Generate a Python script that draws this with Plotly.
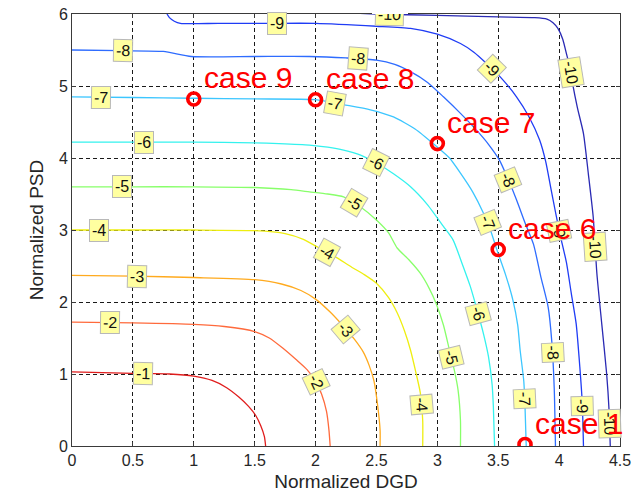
import math
import plotly.graph_objects as go

# ---- contour levels and their traced iso-lines (Normalized DGD vs Normalized PSD) ----
levels = [-1, -2, -3, -4, -5, -6, -7, -8, -9, -10]

dgd_m1 = [0, 0.5, 0.8, 1.0, 1.15, 1.27, 1.37, 1.45, 1.51, 1.55, 1.58, 1.59]
psd_m1 = [1.03, 1.01, 1.0, 0.97, 0.91, 0.81, 0.68, 0.55, 0.42, 0.28, 0.13, 0.0]

dgd_m2 = [0, 0.5, 1.0, 1.25, 1.5, 1.62, 1.73, 1.84, 1.93, 2.0, 2.05, 2.09, 2.11, 2.12]
psd_m2 = [1.72, 1.71, 1.69, 1.66, 1.59, 1.5, 1.36, 1.2, 1.06, 0.9, 0.72, 0.48, 0.22, 0.0]

dgd_m3 = [0, 0.5, 1.0, 1.5, 1.72, 1.88, 2.0, 2.12, 2.23, 2.32, 2.39, 2.44, 2.48, 2.51, 2.53, 2.53]
psd_m3 = [2.37, 2.36, 2.34, 2.31, 2.25, 2.16, 2.04, 1.86, 1.66, 1.48, 1.31, 1.12, 0.9, 0.56, 0.22, 0.0]

dgd_m4 = [0, 0.5, 1.0, 1.5, 1.75, 1.9, 2.02, 2.15, 2.3, 2.4, 2.5, 2.6, 2.67, 2.73, 2.78, 2.82, 2.86, 2.88, 2.88]
psd_m4 = [3.0, 3.0, 3.0, 2.99, 2.95, 2.87, 2.76, 2.64, 2.48, 2.38, 2.26, 2.06, 1.85, 1.6, 1.33, 1.05, 0.74, 0.35, 0.0]

dgd_m5 = [0, 0.5, 1.0, 1.5, 1.8, 1.95, 2.1, 2.23, 2.37, 2.5, 2.6, 2.67, 2.77, 2.86, 2.93, 2.99, 3.05, 3.1, 3.14, 3.17, 3.19, 3.19]
psd_m5 = [3.6, 3.6, 3.6, 3.59, 3.56, 3.53, 3.5, 3.46, 3.32, 3.14, 2.96, 2.75, 2.58, 2.4, 2.2, 1.98, 1.68, 1.33, 1.05, 0.78, 0.35, 0.0]

dgd_m6 = [0, 0.5, 1.0, 1.5, 1.7, 1.95, 2.1, 2.23, 2.37, 2.5, 2.64, 2.78, 2.92, 3.05, 3.13, 3.2, 3.27, 3.32, 3.38, 3.42, 3.45, 3.46, 3.47]
psd_m6 = [4.22, 4.22, 4.22, 4.21, 4.2, 4.18, 4.15, 4.11, 4.04, 3.93, 3.78, 3.6, 3.35, 3.05, 2.86, 2.55, 2.22, 1.93, 1.55, 1.24, 0.85, 0.55, 0.0]

dgd_m7 = [0, 0.5, 1.0, 1.5, 2.0, 2.23, 2.45, 2.64, 2.82, 2.98, 3.1, 3.19, 3.29, 3.38, 3.44, 3.49, 3.56, 3.62, 3.66, 3.68, 3.71, 3.72, 3.73]
psd_m7 = [4.85, 4.84, 4.83, 4.82, 4.81, 4.74, 4.67, 4.57, 4.4, 4.18, 4.0, 3.79, 3.53, 3.23, 2.98, 2.72, 2.38, 2.03, 1.68, 1.33, 0.9, 0.55, 0.0]

dgd_m8 = [0, 0.4, 0.75, 0.98, 1.5, 1.95, 2.25, 2.5, 2.65, 2.78, 2.92, 3.05, 3.19, 3.32, 3.42, 3.51, 3.58, 3.65, 3.72, 3.79, 3.85, 3.91, 3.94, 3.96, 3.97]
psd_m8 = [5.5, 5.49, 5.48, 5.41, 5.41, 5.41, 5.39, 5.36, 5.3, 5.2, 5.05, 4.85, 4.62, 4.39, 4.19, 3.97, 3.71, 3.42, 3.1, 2.8, 2.35, 1.93, 1.45, 0.8, 0.0]

dgd_m9 = [0.78, 0.8, 0.84, 0.89, 1.2, 1.6, 2.0, 2.5, 2.78, 3.0, 3.19, 3.3, 3.4, 3.52, 3.65, 3.75, 3.84, 3.89, 3.93, 3.97, 4.01, 4.06, 4.1, 4.14, 4.17, 4.19, 4.2]
psd_m9 = [6.0, 5.95, 5.9, 5.87, 5.87, 5.87, 5.87, 5.83, 5.8, 5.72, 5.59, 5.47, 5.32, 5.12, 4.85, 4.58, 4.25, 3.95, 3.6, 3.25, 2.92, 2.55, 2.12, 1.7, 1.1, 0.6, 0.0]

dgd_m10 = [2.2, 2.5, 3.0, 3.5, 3.8, 3.9, 3.95, 3.99, 4.03, 4.06, 4.09, 4.11, 4.15, 4.2, 4.24, 4.28, 4.31, 4.35, 4.39, 4.41, 4.42]
psd_m10 = [6.02, 6.0, 5.98, 5.96, 5.95, 5.93, 5.88, 5.8, 5.65, 5.45, 5.25, 5.04, 4.7, 4.34, 3.78, 3.18, 2.4, 1.7, 1.01, 0.5, 0.0]

# ---- operating points ----
case_names = ["case 9", "case 8", "case 7", "case 6", "case 1"]
case_dgd = [1.0, 2.0, 3.0, 3.5, 3.72]
case_psd = [4.82, 4.81, 4.2, 2.73, 0.02]

# ---- axis ticks ----
x_ticks = [0, 0.5, 1, 1.5, 2, 2.5, 3, 3.5, 4, 4.5]
x_tick_text = ["0", "0.5", "1", "1.5", "2", "2.5", "3", "3.5", "4", "4.5"]
y_ticks = [0, 1, 2, 3, 4, 5, 6]
y_tick_text = ["0", "1", "2", "3", "4", "5", "6"]

curves = [
    (dgd_m1, psd_m1), (dgd_m2, psd_m2), (dgd_m3, psd_m3), (dgd_m4, psd_m4),
    (dgd_m5, psd_m5), (dgd_m6, psd_m6), (dgd_m7, psd_m7), (dgd_m8, psd_m8),
    (dgd_m9, psd_m9), (dgd_m10, psd_m10),
]

line_colors = ["#e01c1c", "#ff6a3c", "#ffaa1e", "#eeee10", "#88ff6a",
               "#34f2ee", "#3cc6ff", "#2e6cff", "#1f3cf5", "#2a2ab4"]

# approximate spots where inline level labels sit (snapped onto each line)
label_spots = {
    -1: [(0.58, 0.99)],
    -2: [(0.31, 1.70), (2.00, 0.89)],
    -3: [(0.53, 2.35), (2.26, 1.64)],
    -4: [(0.22, 3.00), (2.10, 2.70), (2.86, 0.57)],
    -5: [(0.41, 3.60), (2.31, 3.37), (3.09, 1.22)],
    -6: [(0.59, 4.21), (2.50, 3.95), (3.34, 1.84)],
    -7: [(0.24, 4.84), (2.16, 4.76), (3.40, 3.09), (3.71, 0.66)],
    -8: [(0.42, 5.49), (2.35, 5.37), (3.58, 3.69), (3.92, 1.29)],
    -9: [(1.68, 5.87), (3.49, 5.32), (4.02, 2.99), (4.18, 0.55)],
    -10: [(2.61, 6.00), (4.08, 5.18), (4.28, 2.77), (4.40, 0.31)],
}

W, H = 632, 495
M_L, M_R, M_T, M_B = 72, 12, 14, 49
X_RANGE = (0, 4.5)
Y_RANGE = (0, 6)
SX = (W - M_L - M_R) / (X_RANGE[1] - X_RANGE[0])
SY = (H - M_T - M_B) / (Y_RANGE[1] - Y_RANGE[0])


def snap_to_line(xs, ys, tx, ty):
    """Closest point on a polyline (in screen space) and the local direction."""
    best = None
    px, py = tx * SX, -ty * SY
    for i in range(len(xs) - 1):
        ax, ay = xs[i] * SX, -ys[i] * SY
        bx, by = xs[i + 1] * SX, -ys[i + 1] * SY
        dx, dy = bx - ax, by - ay
        seg = dx * dx + dy * dy
        t = 0.0 if seg == 0 else max(0.0, min(1.0, ((px - ax) * dx + (py - ay) * dy) / seg))
        cx, cy = ax + t * dx, ay + t * dy
        d = (cx - px) ** 2 + (cy - py) ** 2
        if seg > 0 and (best is None or d < best[0]):
            best = (d, cx / SX, -cy / SY, math.degrees(math.atan2(dy, dx)))
    return best[1], best[2], best[3]


fig = go.Figure()

for lvl, (xs, ys), col in zip(levels, curves, line_colors):
    fig.add_trace(go.Scatter(
        x=xs, y=ys, mode="lines",
        line=dict(color=col, width=1.3, shape="spline", smoothing=0.6),
        hoverinfo="skip", showlegend=False,
    ))

fig.add_trace(go.Scatter(
    x=case_dgd, y=case_psd, mode="markers",
    marker=dict(symbol="circle-open", size=12, color="#ff0000",
                line=dict(width=3.6, color="#ff0000")),
    hoverinfo="skip", showlegend=False,
))

annotations = []
for lvl, (xs, ys) in zip(levels, curves):
    for tx, ty in label_spots[lvl]:
        lx, ly, ang = snap_to_line(xs, ys, tx, ty)
        annotations.append(dict(
            x=lx, y=ly, xref="x", yref="y", text=str(lvl), showarrow=False,
            textangle=ang, bgcolor="#ffffa0", bordercolor="#b8b8b8",
            borderwidth=1, borderpad=2,
            font=dict(family="Liberation Sans, Arial", size=16, color="#111111"),
        ))

# the label sitting on the top edge is cut by the axes box
annotations.append(dict(
    x=2.61, y=1, xref="x", yref="paper", yanchor="bottom", text="",
    showarrow=False, width=36, height=14, bgcolor="#ffffff", borderpad=0,
    borderwidth=0,
))

for name, cx, cy in zip(case_names, case_dgd, case_psd):
    annotations.append(dict(
        x=cx, y=cy, xref="x", yref="y", text=name, showarrow=False,
        xanchor="left", yanchor="middle", xshift=8, yshift=21,
        font=dict(family="Liberation Sans, Arial", size=30, color="#ff0000"),
    ))

axis_common = dict(
    showline=True, linecolor="#3a3a3a", linewidth=1, mirror="ticks",
    ticks="inside", ticklen=4, tickcolor="#3a3a3a",
    showgrid=True, gridcolor="#1a1a1a", gridwidth=1, griddash="4px,3px",
    zeroline=False, automargin=False,
    tickfont=dict(family="Liberation Sans, Arial", size=16, color="#262626"),
)

fig.update_layout(
    width=W, height=H,
    margin=dict(l=M_L, r=M_R, t=M_T, b=M_B),
    paper_bgcolor="white", plot_bgcolor="white",
    xaxis=dict(range=list(X_RANGE), tickvals=x_ticks, ticktext=x_tick_text,
               title=dict(text="Normalized DGD", standoff=6,
                          font=dict(family="Liberation Sans, Arial", size=19, color="#262626")),
               **axis_common),
    yaxis=dict(range=list(Y_RANGE), tickvals=y_ticks, ticktext=y_tick_text,
               title=dict(text="Normalized PSD", standoff=10,
                          font=dict(family="Liberation Sans, Arial", size=19, color="#262626")),
               **axis_common),
    annotations=annotations,
)

fig.write_html("out.html")
